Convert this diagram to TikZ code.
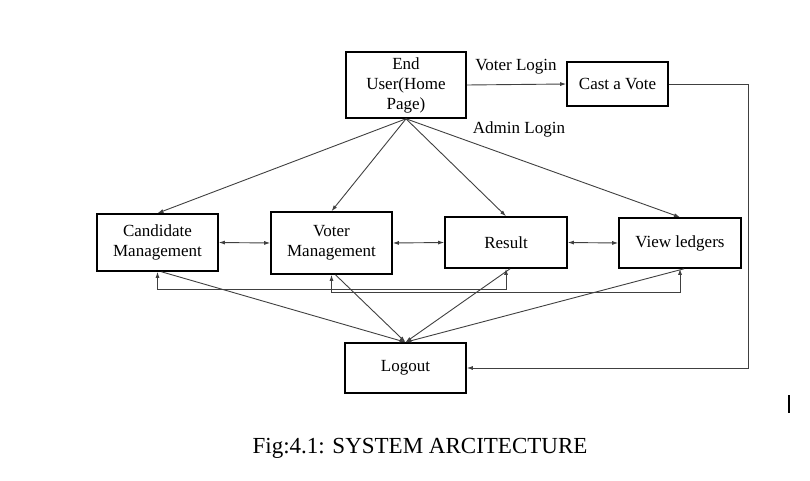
\documentclass[tikz,border=0pt]{standalone}
\usepackage{fontspec}
\setmainfont{Liberation Serif}
\usetikzlibrary{arrows.meta}

\begin{document}
\begin{tikzpicture}[x=1pt,y=-1pt,
                box/.style={rectangle,draw=black,line width=1.6pt,inner sep=0pt,align=center,font=\fontsize{17}{20}\selectfont},
                link/.style={draw=black!75,line width=0.9pt,-{Latex[length=6pt,width=4pt]}},
                twolink/.style={link,{Latex[length=6pt,width=4pt]}-{Latex[length=6pt,width=4pt]}},
                tag/.style={font=\fontsize{17}{20}\selectfont}
            ]
                \useasboundingbox (0,0) rectangle (810,481);
                % boxes
                \node[box,minimum width=120pt,minimum height=66pt] (user) at (406,85) {End\\User(Home\\Page)};
                \node[box,minimum width=101pt,minimum height=44pt] (vote) at (617.5,84) {Cast a Vote};
                \node[box,minimum width=121pt,minimum height=57pt] (cand) at (157.5,242.5) {Candidate\\Management};
                \node[box,minimum width=121pt,minimum height=62pt] (voter) at (331.5,243) {Voter\\Management};
                \node[box,minimum width=122pt,minimum height=51pt] (result) at (506,242.5) {Result};
                \node[box,minimum width=122pt,minimum height=50pt] (ledger) at (680,243) {View ledgers};
                \node[box,minimum width=121pt,minimum height=50pt] (logout) at (405.5,368) {Logout};

                \node[tag] (voterlogin) at (516,67) {Voter Login};
                \node[tag] (adminlogin) at (519,129) {Admin Login};

                \draw[link] (user.east) -- (vote.west);
                \draw[link] (vote.east) -- ++(80,0) |- (logout.east);

                \foreach \b in {cand,voter,result,ledger}
                    {
                    \draw[link] (user.south) -- (\b.north);
                    \draw[link] ([xshift=4pt]\b.south) -- (logout.north);
                }
                \draw[twolink] (cand.east) -- (voter.west);
                \draw[twolink] (voter.east) -- (result.west);
                \draw[twolink] (result.east) -- (ledger.west);

                \draw[twolink] (cand.south) -- ++(0,18) -| (result.south);
                \draw[twolink] (voter.south) -- ++(0,18) -| (ledger.south);

                \draw[line width=1.4pt] (789,395) -- (789,413);
                \node[font=\fontsize{23}{26}\selectfont] (caption) at (420,448) {Fig:4.1: SYSTEM ARCITECTURE};

            \end{tikzpicture}
\end{document}
